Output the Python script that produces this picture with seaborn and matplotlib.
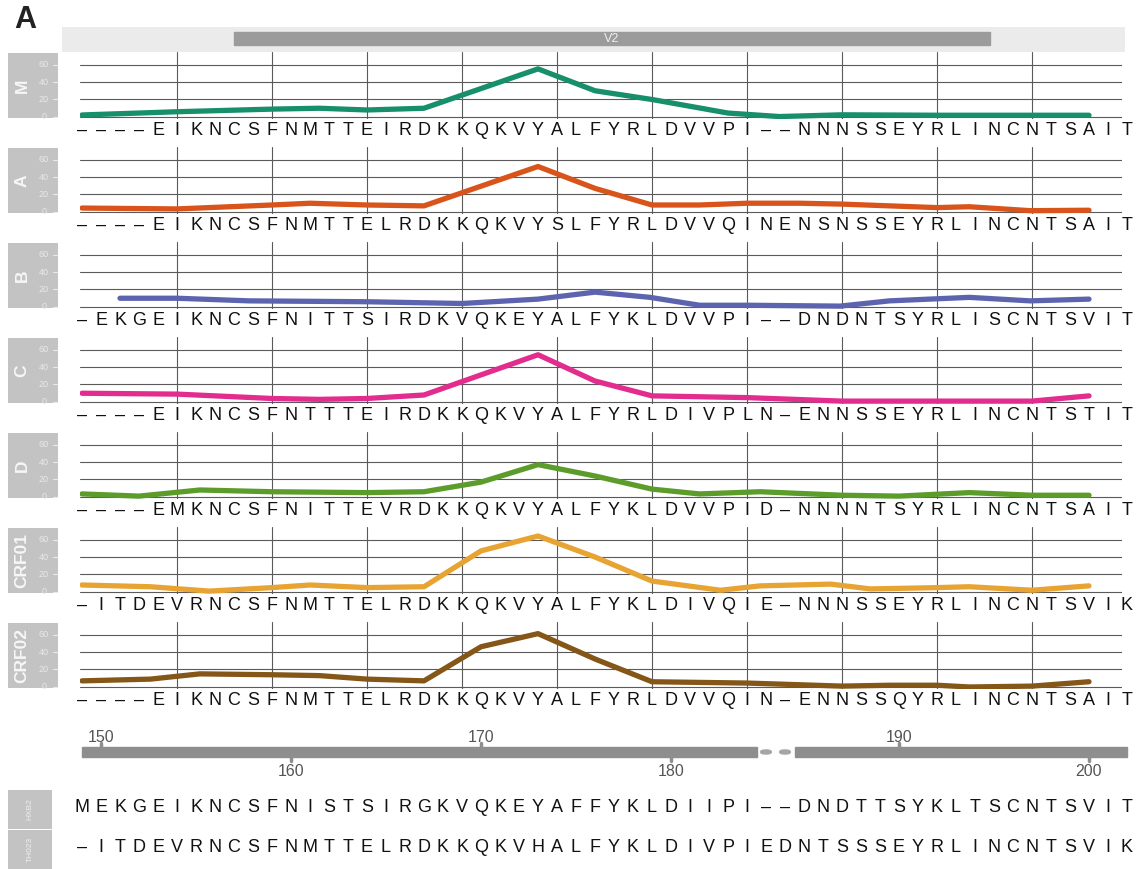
import numpy as np
import pandas as pd
import matplotlib
matplotlib.use("Agg")
import matplotlib.pyplot as plt
import matplotlib.transforms as mtransforms
from matplotlib.patches import Rectangle, FancyBboxPatch
import seaborn as sns

# subtypes (panels) and their consensus sequences
subtypes = ["M", "A", "B", "C", "D", "CRF01", "CRF02"]
seq_M = "----EIKNCSFNMTTEIRDKKQKVYALFYRLDVVPI--NNNSSEYRLINCNTSAIT"
seq_A = "----EIKNCSFNMTTELRDKKQKVYSLFYRLDVVQINENSNSSEYRLINCNTSAIT"
seq_B = "-EKGEIKNCSFNITTSIRDKVQKEYALFYKLDVVPI--DNDNTSYRLISCNTSVIT"
seq_C = "----EIKNCSFNTTTEIRDKKQKVYALFYRLDIVPLN-ENNSSEYRLINCNTSTIT"
seq_D = "----EMKNCSFNITTEVRDKKQKVYALFYKLDVVPID-NNNNTSYRLINCNTSAIT"
seq_CRF01 = "-ITDEVRNCSFNMTTELRDKKQKVYALFYKLDIVQIE-NNNSSEYRLINCNTSVIK"
seq_CRF02 = "----EIKNCSFNMTTELRDKKQKVYALFYRLDVVQIN-ENNSSQYRLINCNTSAIT"
seq_HXB2 = "MEKGEIKNCSFNISTSIRGKVQKEYAFFYKLDIIPI--DNDTTSYKLTSCNTSVIT"
seq_TH023 = "-ITDEVRNCSFNMTTELRDKKQKVHALFYKLDIVPIEDNTSSSEYRLINCNTSVIK"

# line profiles (alignment position, value)
pos_M = [0, 5, 10, 12.5, 15, 18, 24, 27, 30, 34, 36.7, 40, 45, 53]
val_M = [2.3, 6, 9, 10, 8, 10, 55, 30, 20, 4.5, 0.5, 2.5, 2, 2]
pos_A = [0, 5, 10, 12, 15, 18, 24, 27, 30, 32.5, 35, 37.8, 40, 45, 46.7, 49.9, 53]
val_A = [4.5, 3.5, 8, 10, 8, 7, 52, 27, 8, 8, 10, 10, 9, 5, 6, 1.5, 2]
pos_B = [2, 5, 8.8, 15, 20, 24, 27, 29.9, 32.5, 35, 39.9, 42.5, 46.7, 49.9, 53]
val_B = [10, 10, 7, 6, 4, 9, 17, 11, 2, 2, 1, 7, 11, 7, 9]
pos_C = [0, 5, 10, 12.5, 15, 18, 21, 24, 27, 30, 32.5, 35, 40, 45, 50, 53]
val_C = [10, 9, 4, 3, 4, 8, 31, 54, 24, 7, 6, 5, 1, 1, 1, 7]
pos_D = [0, 3, 6.2, 10, 15, 18, 21, 24, 27, 30, 32.5, 35.7, 40, 43, 46.7, 50, 53]
val_D = [3.5, 1, 8, 6, 5, 6, 17, 37, 24, 9, 3.5, 6, 2, 1, 5, 2, 2]
pos_CRF01 = [0, 3.6, 6.7, 10, 12, 15, 18, 21, 24, 27, 30, 33.6, 35.7, 39.4, 41.5, 45, 46.7, 50, 53]
val_CRF01 = [8, 6, 1, 5, 8, 5, 6, 47, 64, 40, 12.5, 2, 7, 9, 3.5, 5, 6, 2, 7]
pos_CRF02 = [0, 3.6, 6.2, 10, 12.5, 15, 18, 21, 24, 27, 30, 35, 40, 42.5, 45, 46.7, 50, 53]
val_CRF02 = [7, 9, 15, 14, 13, 9, 7, 46, 61, 32, 6, 4.5, 1, 2, 2, 0, 1, 6]

y_ticks = [0, 20, 40, 60]
v_lines = [5, 10, 15, 20, 25, 30, 35, 40, 45, 50]
hxb2_ticks = [1, 11, 21, 31, 43, 53]
hxb2_labels = ["150", "160", "170", "180", "190", "200"]
v2_start, v2_end = 8.0, 47.8

seqs = [seq_M, seq_A, seq_B, seq_C, seq_D, seq_CRF01, seq_CRF02]
positions = [pos_M, pos_A, pos_B, pos_C, pos_D, pos_CRF01, pos_CRF02]
values = [val_M, val_A, val_B, val_C, val_D, val_CRF01, val_CRF02]

sns.set_theme(style="white")
plt.rcParams["font.family"] = ["Liberation Sans", "DejaVu Sans"]
colors = ["#178f6a", "#d9541a", "#5c64b0", "#e22d8e", "#5c9c2a", "#e8a433", "#845617"]

W, H = 1137, 869
fig = plt.figure(figsize=(W / 100, H / 100), dpi=100)


def px_rect(x0, y0, x1, y1):
    return [x0 / W, 1 - y1 / H, (x1 - x0) / W, (y1 - y0) / H]


# alignment index -> pixel: x = X0 + STEP * i
X0, STEP = 82, 19.0


def idx_lim(px0, px1):
    return ((px0 - X0) / STEP, (px1 - X0) / STEP)


def draw_seq(ax, seq, y_frac, size=13):
    tr = mtransforms.blended_transform_factory(ax.transData, ax.transAxes)
    for i, ch in enumerate(seq):
        ax.text(i, y_frac, "–" if ch == "-" else ch, transform=tr,
                ha="center", va="center", fontsize=size, color="#111111",
                clip_on=False)


fig.text(14 / W, 1 - 20 / H, "A", fontsize=22, fontweight="bold",
         color="#222222", va="center", ha="left")

# V2 header
hx0, hx1 = 62, 1125
hax = fig.add_axes(px_rect(hx0, 27, hx1, 52))
hax.set_xlim(*idx_lim(hx0, hx1))
hax.set_ylim(0, 1)
hax.axis("off")
hax.add_patch(Rectangle((hax.get_xlim()[0], 0), 100, 1, color="#ebebeb", zorder=0))
hax.add_patch(Rectangle((v2_start, 0.28), v2_end - v2_start, 0.52,
                        color="#9b9b9b", zorder=1))
hax.text((v2_start + v2_end) / 2, 0.5, "V2", color="#eeeeee", fontsize=9,
         ha="center", va="center", zorder=2)

ax_x0, ax_x1 = 80, 1122
for k, name in enumerate(subtypes):
    top = 52 + 95 * k
    bot = top + 67
    ax = fig.add_axes(px_rect(ax_x0, top, ax_x1, bot))
    ax.set_xlim(*idx_lim(ax_x0, ax_x1))
    ax.set_ylim(-2.3, 74.3)
    for v in y_ticks:
        ax.axhline(v, color="#5a5a5a", lw=0.8, zorder=1)
    for v in v_lines:
        ax.axvline(v, color="#5a5a5a", lw=0.8, zorder=1)
    sns.lineplot(x=positions[k], y=values[k], ax=ax, color=colors[k],
                 linewidth=3.8, zorder=3)
    ax.set_xticks([])
    ax.set_yticks([])
    ax.set_xlabel("")
    ax.set_ylabel("")
    for s in ax.spines.values():
        s.set_visible(False)
    draw_seq(ax, seqs[k], -0.165)

    # grey strip with label and y ticks
    sax = fig.add_axes(px_rect(8, top + 1, 58, bot - 1))
    sax.set_facecolor("#c3c3c3")
    sax.set_xlim(0, 1)
    sax.set_ylim(-2.3 + 1.1, 74.3 - 1.1)
    sax.set_xticks([])
    sax.set_yticks([])
    for s in sax.spines.values():
        s.set_visible(False)
    sax.text(0.28, 0.5, name, transform=sax.transAxes, rotation=90,
             ha="center", va="center", fontsize=12.5, fontweight="bold",
             color="#f7f7f7")
    for v in y_ticks:
        sax.text(0.72, v, str(v), ha="center", va="center", fontsize=6.5,
                 color="#e8e8e8")
        sax.plot([0.9, 1.0], [v, v], color="#e8e8e8", lw=0.8)

# HXB2 numbering bar
bax = fig.add_axes(px_rect(62, 728, 1137, 778))
bax.set_xlim(*idx_lim(62, 1137))
bax.set_ylim(0, 50)
bax.invert_yaxis()
bax.axis("off")
bar_color = "#8e8e8e"
bax.add_patch(Rectangle((0, 19), 35.5, 10, color=bar_color))
bax.add_patch(Rectangle((37.5, 19), 55 - 37.5, 10, color=bar_color))
for g in [36, 37]:
    bax.add_patch(FancyBboxPatch((g - 0.28, 22), 0.56, 4,
                                 boxstyle="round,pad=0,rounding_size=0.25",
                                 color="#a5a5a5", mutation_aspect=8))
for j, (t, lab) in enumerate(zip(hxb2_ticks, hxb2_labels)):
    if j % 2 == 0:
        bax.plot([t, t], [15, 19], color=bar_color, lw=2.5)
        bax.text(t, 9, lab, ha="center", va="center", fontsize=11.5,
                 color="#555555")
    else:
        bax.plot([t, t], [29, 33], color=bar_color, lw=2.5)
        bax.text(t, 43, lab, ha="center", va="center", fontsize=11.5,
                 color="#555555")

# reference sequences
for (y0, y1, lab, seq) in [(790, 829, "HXB2", seq_HXB2),
                           (830, 869, "TH023", seq_TH023)]:
    lax = fig.add_axes(px_rect(8, y0, 52, y1))
    lax.set_facecolor("#c3c3c3")
    lax.set_xticks([])
    lax.set_yticks([])
    for s in lax.spines.values():
        s.set_visible(False)
    lax.text(0.5, 0.5, lab, transform=lax.transAxes, rotation=90,
             ha="center", va="center", fontsize=6, color="#eeeeee")
    rax = fig.add_axes(px_rect(ax_x0, y0, ax_x1, y1))
    rax.set_xlim(*idx_lim(ax_x0, ax_x1))
    rax.axis("off")
    draw_seq(rax, seq, 0.55)

fig.savefig("out.png", dpi=100)
